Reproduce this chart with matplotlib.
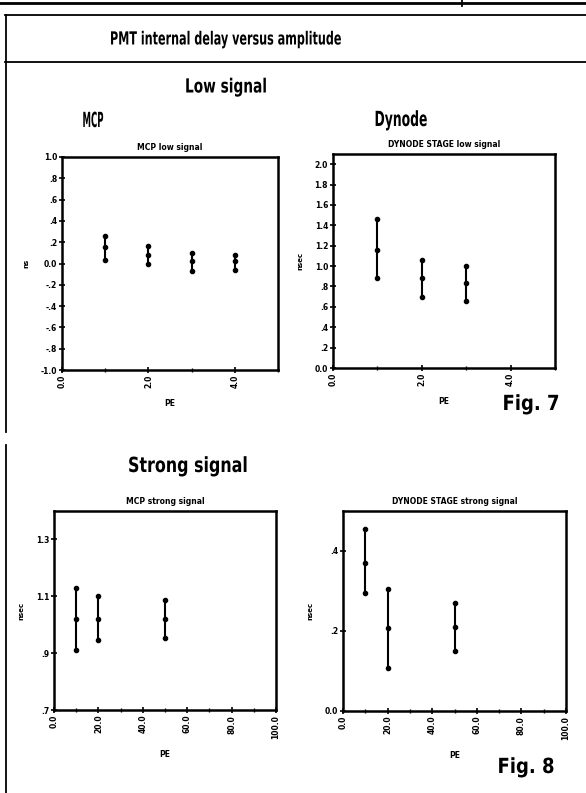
import matplotlib
matplotlib.use("Agg")
import matplotlib.pyplot as plt
from matplotlib.lines import Line2D
from matplotlib.ticker import FuncFormatter, MultipleLocator
from matplotlib.patheffects import AbstractPathEffect
from matplotlib.transforms import Affine2D
import numpy as np

# ---- data -------------------------------------------------------------
mcp_low_pe = [1, 2, 3, 4]
mcp_low_mid = [0.155, 0.08, 0.02, 0.02]
mcp_low_lo = [0.03, 0.00, -0.07, -0.06]
mcp_low_hi = [0.26, 0.16, 0.10, 0.08]

dyn_low_pe = [1, 2, 3]
dyn_low_mid = [1.16, 0.88, 0.83]
dyn_low_lo = [0.88, 0.70, 0.66]
dyn_low_hi = [1.46, 1.06, 1.00]

mcp_strong_pe = [10, 20, 50]
mcp_strong_mid = [1.02, 1.02, 1.02]
mcp_strong_lo = [0.91, 0.945, 0.954]
mcp_strong_hi = [1.128, 1.10, 1.086]

dyn_strong_pe = [10, 20, 50]
dyn_strong_mid = [0.37, 0.207, 0.21]
dyn_strong_lo = [0.296, 0.107, 0.15]
dyn_strong_hi = [0.455, 0.305, 0.27]

W, H = 586, 793
fig = plt.figure(figsize=(W / 100, H / 100), dpi=100)
fig.patch.set_facecolor("white")


class Squeeze(AbstractPathEffect):
    """Horizontally compress glyphs about a fixed display x position."""

    def __init__(self, sx, cx):
        super().__init__()
        self.sx = sx
        self.cx = cx

    def draw_path(self, renderer, gc, tpath, affine, rgbFace=None):
        extra = (Affine2D().translate(-self.cx, 0)
                 .scale(self.sx, 1).translate(self.cx, 0))
        renderer.draw_path(gc, tpath, affine + extra, rgbFace)


def fx(px):
    return px / W


def fy(py):
    return 1 - py / H


def hline(y, x0, x1, lw=1.3):
    fig.add_artist(Line2D([fx(x0), fx(x1)], [fy(y), fy(y)], color="k", lw=lw,
                          transform=fig.transFigure))


def vline(x, y0, y1, lw=1.3):
    fig.add_artist(Line2D([fx(x), fx(x)], [fy(y0), fy(y1)], color="k", lw=lw,
                          transform=fig.transFigure))


# page frame
hline(3, 0, W, lw=2.0)
vline(462, 0, 6, lw=1.3)
hline(15, 5, W, lw=1.3)
hline(62, 5, W, lw=1.3)
vline(6, 15, 432, lw=1.3)
vline(6, 445, H, lw=1.3)

renderer = fig.canvas.get_renderer()


def heading(x, y, s, size, width):
    t = fig.text(fx(x), fy(y), s, family="DejaVu Sans", weight="bold",
                 fontsize=size, ha="center", va="center")
    natural = t.get_window_extent(renderer).width
    t.set_path_effects([Squeeze(width / natural, x)])
    return t


heading(225, 39.5, "PMT internal delay versus amplitude", 13, 230)
heading(226, 87, "Low signal", 14, 82)
heading(93, 121, "MCP", 15, 21)
heading(401, 120, "Dynode", 15, 53)
heading(188, 466, "Strong signal", 15, 120)
heading(531, 404, "Fig. 7", 15, 57)
heading(526, 767, "Fig. 8", 15, 57)


def yfmt(v, pos):
    v = round(v, 6)
    if v == 0:
        return "0.0"
    s = f"{v:.1f}"
    if s.startswith("0."):
        s = s[1:]
    elif s.startswith("-0."):
        s = "-" + s[2:]
    return s


def panel(rect, title, pe, mid, lo, hi, xlim, xmaj, xmin, ylim, yticks, ylabel):
    ax = fig.add_axes(rect)
    for sp in ax.spines.values():
        sp.set_linewidth(1.8)
    ax.set_xlim(*xlim)
    ax.set_ylim(*ylim)
    ax.xaxis.set_major_locator(MultipleLocator(xmaj))
    ax.xaxis.set_minor_locator(MultipleLocator(xmin))
    ax.set_yticks(yticks)
    ax.yaxis.set_major_formatter(FuncFormatter(yfmt))
    ax.xaxis.set_major_formatter(FuncFormatter(lambda v, p: f"{v:.1f}"))
    ax.tick_params(axis="both", which="major", direction="inout", length=4,
                   width=1.2, labelsize=5.5, pad=1.5)
    ax.tick_params(axis="both", which="minor", direction="inout", length=3,
                   width=1.0)
    for lab in ax.get_xticklabels():
        lab.set_rotation(90)
        lab.set_fontweight("bold")
    for lab in ax.get_yticklabels():
        lab.set_fontweight("bold")
    ax.set_title(title, fontsize=5.5, weight="bold", pad=5)
    ax.set_xlabel("PE", fontsize=5.5, weight="bold", labelpad=8)
    ax.set_ylabel(ylabel, fontsize=5, weight="bold", labelpad=8)

    ax.vlines(pe, lo, hi, color="k", lw=1.5)
    for series in (lo, mid, hi):
        ax.plot(pe, series, "o", color="k", ms=3)
    return ax


panel([fx(62), fy(370), fx(278) - fx(62), fy(157) - fy(370)],
      "MCP low signal", mcp_low_pe, mcp_low_mid, mcp_low_lo, mcp_low_hi,
      (0, 5), 2, 1, (-1.0, 1.0), np.round(np.arange(-1.0, 1.01, 0.2), 2), "ns")

panel([fx(333), fy(368), fx(555) - fx(333), fy(154) - fy(368)],
      "DYNODE STAGE low signal", dyn_low_pe, dyn_low_mid, dyn_low_lo, dyn_low_hi,
      (0, 5), 2, 1, (0.0, 2.1), np.round(np.arange(0.0, 2.01, 0.2), 2), "nsec")

panel([fx(54), fy(710), fx(276) - fx(54), fy(511) - fy(710)],
      "MCP strong signal", mcp_strong_pe, mcp_strong_mid, mcp_strong_lo,
      mcp_strong_hi, (0, 100), 20, 10, (0.7, 1.4), [0.7, 0.9, 1.1, 1.3], "nsec")

panel([fx(343), fy(711), fx(566) - fx(343), fy(511) - fy(711)],
      "DYNODE STAGE strong signal", dyn_strong_pe, dyn_strong_mid,
      dyn_strong_lo, dyn_strong_hi, (0, 100), 20, 10, (0.0, 0.5),
      [0.0, 0.2, 0.4], "nsec")

fig.savefig("out.png", dpi=100, facecolor="white")
